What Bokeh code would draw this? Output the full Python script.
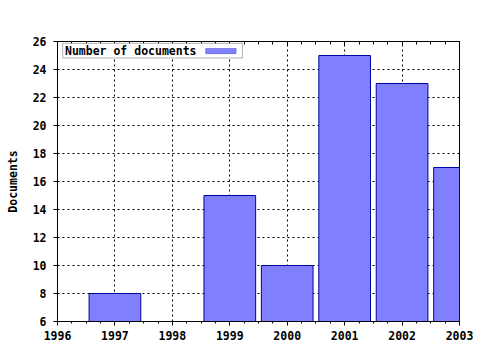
from bokeh.plotting import figure
from bokeh.models import (Range1d, LinearAxis, SingleIntervalTicker, BoxAnnotation, Label, ColumnDataSource)
from bokeh.embed import file_html
from bokeh.resources import INLINE

years = [1997, 1998, 1999, 2000, 2001, 2002, 2003]
documents = [8, 6, 15, 10, 25, 23, 17]
y_ticks = list(range(6, 27, 2))
x_ticks = list(range(1996, 2004))

FONT = "DejaVu Sans Mono"

p = figure(width=480, height=350, output_backend="svg", toolbar_location=None,
           x_range=Range1d(1996, 2003), y_range=Range1d(6, 26),
           min_border_left=57, min_border_right=21, min_border_top=41, min_border_bottom=29,
           x_axis_location=None, y_axis_location=None)
p.outline_line_color = "black"
p.outline_line_width = 1
p.background_fill_color = "white"
p.border_fill_color = "white"

src = ColumnDataSource(dict(x=years, top=documents))
p.vbar(x="x", top="top", bottom=0, width=0.9, source=src,
       fill_color="#8080ff", line_color="#0000a0", line_width=1)

def mk_axis(ticks, minor):
    ax = LinearAxis(ticker=SingleIntervalTicker(interval=ticks, num_minor_ticks=minor))
    ax.axis_line_color = "black"
    ax.major_tick_line_color = "black"
    ax.minor_tick_line_color = "black"
    ax.major_tick_in = 0
    ax.major_tick_out = 4
    ax.minor_tick_in = 0
    ax.minor_tick_out = 2
    ax.major_label_text_font = FONT
    ax.major_label_text_font_style = "bold"
    ax.major_label_text_font_size = "11.5px"
    ax.major_label_text_color = "black"
    ax.major_label_standoff = 5
    return ax

xb = mk_axis(1, 4)
yl = mk_axis(2, 1)
yl.minor_tick_line_color = None
yl.major_label_standoff = 7
yl.axis_label = "Documents"
yl.axis_label_text_font = FONT
yl.axis_label_text_font_style = "bold"
yl.axis_label_text_font_size = "11.5px"
yl.axis_label_text_color = "black"
yl.axis_label_standoff = 10
xt = mk_axis(1, 4)
xt.major_tick_out = 0
xt.major_tick_in = 4
xt.minor_tick_out = 0
xt.minor_tick_in = 3
xt.major_label_text_font_size = "0px"
xt.major_label_text_alpha = 0
p.add_layout(xb, "below")
p.add_layout(yl, "left")
p.add_layout(xt, "above")

p.xgrid.ticker = SingleIntervalTicker(interval=1)
p.ygrid.ticker = SingleIntervalTicker(interval=2)
for g in (p.xgrid, p.ygrid):
    g.grid_line_color = "black"
    g.grid_line_dash = "2 3"
    g.grid_line_width = 1

# legend (label before swatch)
p.add_layout(BoxAnnotation(left=1996.09, right=1999.22, top=25.87, bottom=24.82,
                           fill_color="white", fill_alpha=1, line_color="black", line_width=1))
p.add_layout(Label(x=1996.13, y=25.33, text="Number of documents", text_font=FONT,
                   text_font_style="bold", text_font_size="11.5px", text_baseline="middle",
                   text_color="black"))
p.add_layout(BoxAnnotation(left=1998.58, right=1999.11, top=25.5, bottom=25.13,
                           fill_color="#8080ff", fill_alpha=1, line_color="#0000a0", line_width=1))

open("out.html", "w").write(file_html(p, INLINE))
